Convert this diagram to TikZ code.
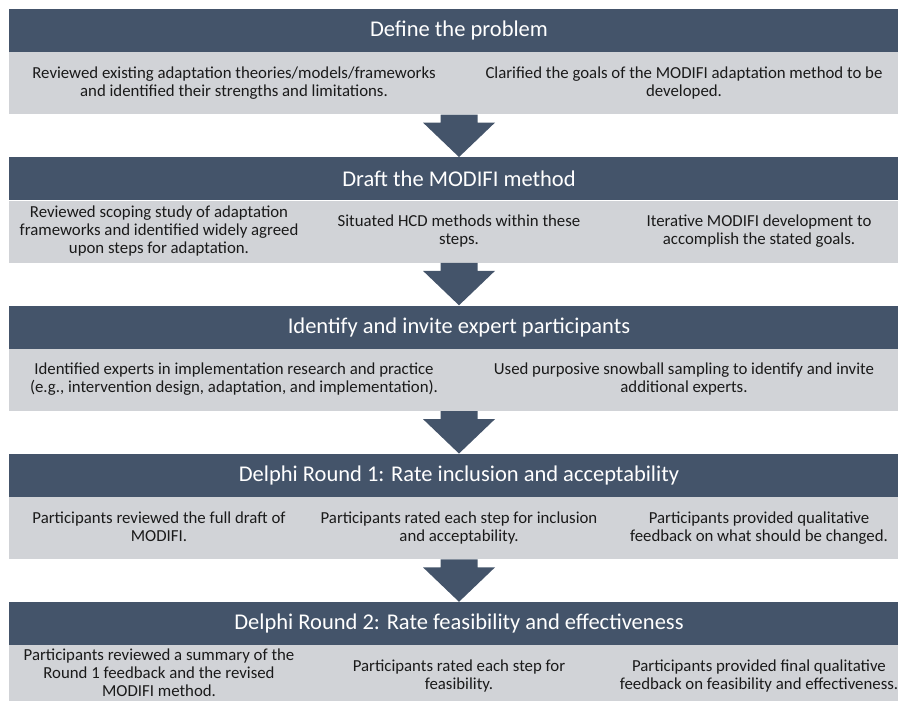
\documentclass[tikz,border=0pt]{standalone}
\usepackage{fontspec}
\setmainfont{Carlito}
\usetikzlibrary{positioning}

\definecolor{slate}{HTML}{44546A}
\definecolor{mist}{HTML}{D1D3D7}
\definecolor{ink}{HTML}{1A1A1A}

\begin{document}
\begin{tikzpicture}[x=1pt,y=-1pt,
  header/.style={fill=slate,text=white,minimum width=900pt,minimum height=43pt,
    inner sep=0pt,font=\fontsize{22.5}{26}\selectfont},
  panel/.style={fill=mist,minimum width=900pt,minimum height=62pt,inner sep=0pt},
  item/.style={text=ink,align=center,inner sep=0pt,font=\fontsize{16.8}{18}\selectfont}]
  % Canvas
  \useasboundingbox (0,0) rectangle (898,701);
  \clip (0,0) rectangle (898,701);

  % Define the problem
  \node[header] (hd1) at (459,30.5) {Define the problem};
  \node[panel,below=0pt of hd1] (bx1) {};
  \node[item] (t11) at (234,83) {Reviewed existing adaptation theories/models/frameworks\\and identified their strengths and limitations.};
  \node[item] (t12) at (684,83) {Clarified the goals of the MODIFI adaptation method to be\\developed.};

  % Draft the method
  \node[header] (hd2) at (459,178.75) {Draft the MODIFI method};
  \node[panel,below=0pt of hd2] (bx2) {};
  \node[item] (t21) at (159,231.25) {Reviewed scoping study of adaptation\\frameworks and identified widely agreed\\upon steps for adaptation.};
  \node[item] (t22) at (459,231.25) {Situated HCD methods within these\\steps.};
  \node[item] (t23) at (759,231.25) {Iterative MODIFI development to\\accomplish the stated goals.};

  % Experts
  \node[header] (hd3) at (459,327) {Identify and invite expert participants};
  \node[panel,below=0pt of hd3] (bx3) {};
  \node[item] (t31) at (234,379.5) {Identified experts in implementation research and practice\\(e.g., intervention design, adaptation, and implementation).};
  \node[item] (t32) at (684,379.5) {Used purposive snowball sampling to identify and invite\\additional experts.};

  % Delphi round 1
  \node[header] (hd4) at (459,475.25) {Delphi Round 1: Rate inclusion and acceptability};
  \node[panel,below=0pt of hd4] (bx4) {};
  \node[item] (t41) at (159,526.75) {Participants reviewed the full draft of\\MODIFI.};
  \node[item] (t42) at (459,527.75) {Participants rated each step for inclusion\\and acceptability.};
  \node[item] (t43) at (759,527.75) {Participants provided qualitative\\feedback on what should be changed.};

  % Delphi round 2
  \node[header] (hd5) at (459,623.5) {Delphi Round 2: Rate feasibility and effectiveness};
  \node[panel,below=0pt of hd5] (bx5) {};
  \node[item] (t51) at (159,673) {Participants reviewed a summary of the\\Round 1 feedback and the revised\\MODIFI method.};
  \node[item] (t52) at (459,676) {Participants rated each step for\\feasibility.};
  \node[item] (t53) at (759,676) {Participants provided final qualitative\\feedback on feasibility and effectiveness.};

  % Down arrows between the steps
  \foreach \i/\j in {1/2,2/3,3/4,4/5}
    \fill[slate] ([xshift=-18.5pt]bx\i.south) -- ([xshift=-18.5pt,yshift=-8pt]bx\i.south)
      -- ([xshift=-36pt,yshift=-8pt]bx\i.south) -- (hd\j.north)
      -- ([xshift=36pt,yshift=-8pt]bx\i.south) -- ([xshift=18.5pt,yshift=-8pt]bx\i.south)
      -- ([xshift=18.5pt]bx\i.south) -- cycle;
\end{tikzpicture}
\end{document}
